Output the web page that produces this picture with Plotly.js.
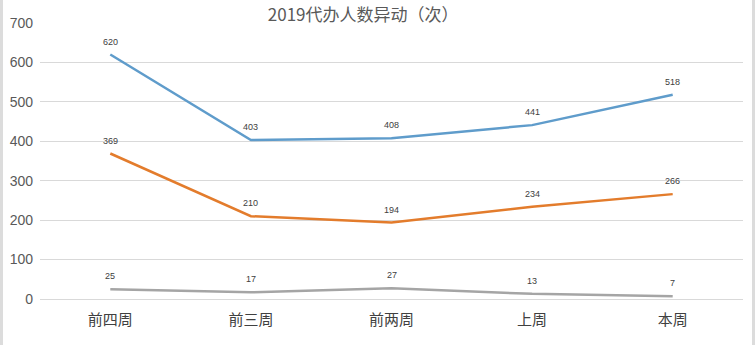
<!DOCTYPE html>
<html>
<head>
<meta charset="utf-8">
<script src="https://cdn.plot.ly/plotly-3.0.1.min.js"></script>
<style>
  html, body { margin: 0; padding: 0; background: #fff; }
  #wrap { position: relative; width: 755px; height: 345px; overflow: hidden; }
  #chart { width: 755px; height: 345px; }
  .edge { position: absolute; top: 0; width: 3px; height: 345px; background: #dcdcdc; pointer-events: none; }
</style>
</head>
<body>
<div id="wrap">
  <div id="chart"></div>
  <div class="edge" style="left:0;"></div>
  <div class="edge" style="left:752px;"></div>
</div>
<script>
const categories = ['前四周', '前三周', '前两周', '上周', '本周'];
const seriesBlue = [620, 403, 408, 441, 518];
const seriesOrange = [369, 210, 194, 234, 266];
const seriesGray = [25, 17, 27, 13, 7];
const yTicks = [0, 100, 200, 300, 400, 500, 600, 700];
const titleText = '2019代办人数异动（次）';

function line(y, color) {
  return {
    type: 'scatter',
    mode: 'lines',
    x: categories,
    y: y,
    line: { color: color, width: 2.5 },
    cliponaxis: false,
    hoverinfo: 'skip'
  };
}

const data = [
  line(seriesBlue, '#5f9ccb'),
  line(seriesOrange, '#e37c2c'),
  line(seriesGray, '#a5a5a5')
];

const annotations = [];
[seriesBlue, seriesOrange, seriesGray].forEach(function (s) {
  s.forEach(function (v, i) {
    annotations.push({
      x: categories[i], y: v, xref: 'x', yref: 'y',
      text: String(v), showarrow: false,
      yshift: 13,
      font: { family: 'Liberation Sans, Arial, sans-serif', size: 9, color: '#404040' }
    });
  });
});

const layout = {
  width: 755,
  height: 345,
  margin: { l: 40, r: 12, t: 23, b: 46 },
  paper_bgcolor: '#ffffff',
  plot_bgcolor: '#ffffff',
  showlegend: false,
  annotations: annotations,
  title: {
    text: titleText,
    font: { family: 'Noto Sans CJK SC, sans-serif', size: 17, color: '#595959' },
    xref: 'container', x: 0.481, xanchor: 'center',
    yref: 'container', y: 0.975, yanchor: 'top'
  },
  xaxis: {
    type: 'category',
    range: [-0.5, 4.5],
    showgrid: false,
    showline: false,
    zeroline: false,
    ticks: '',
    tickfont: { family: 'Noto Sans CJK SC, sans-serif', size: 15, color: '#404040' },
    ticklabelstandoff: 10
  },
  yaxis: {
    range: [0, 700],
    tickvals: yTicks,
    ticktext: yTicks.map(String),
    showgrid: true,
    gridcolor: '#d9d9d9',
    gridwidth: 1,
    zeroline: true,
    zerolinecolor: '#d9d9d9',
    zerolinewidth: 1,
    showline: false,
    ticks: '',
    ticklabelstandoff: 6,
    tickfont: { family: 'Liberation Sans, Arial, sans-serif', size: 14, color: '#595959' }
  }
};

Plotly.newPlot('chart', data, layout, { displayModeBar: false, staticPlot: true });
</script>
</body>
</html>
